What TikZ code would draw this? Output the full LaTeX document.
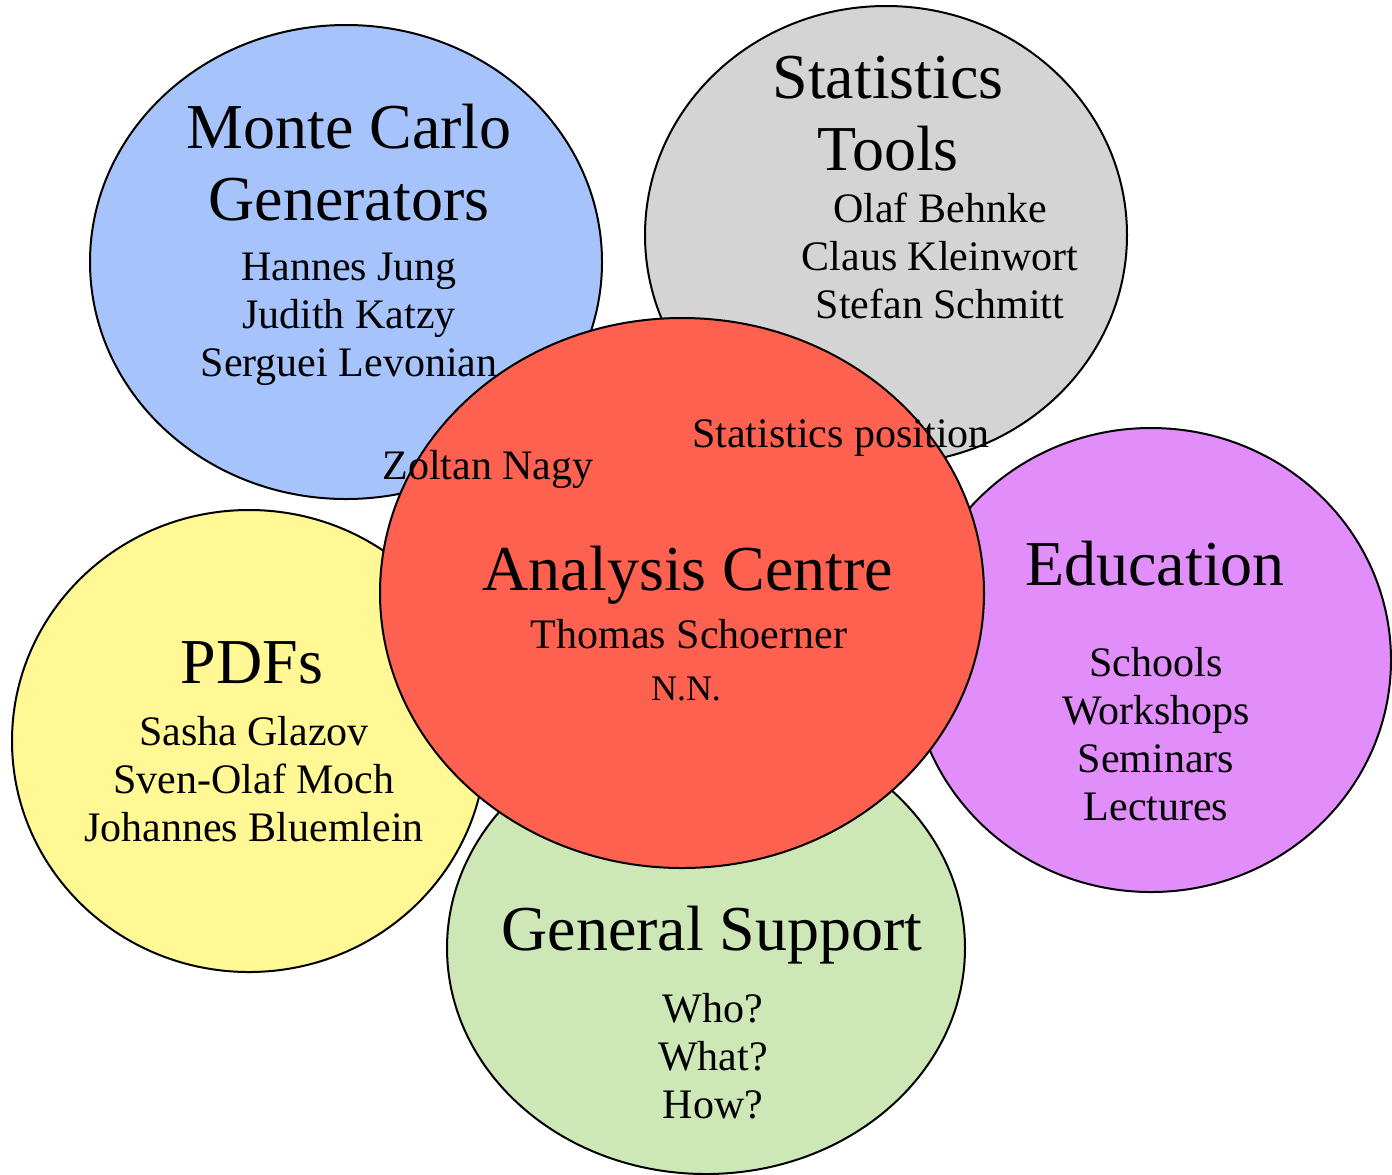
\documentclass[tikz,border=0pt]{standalone}
\usepackage{fontspec}
\setmainfont{Liberation Serif}
\definecolor{mcblue}{RGB}{166,196,251}
\definecolor{statgray}{RGB}{212,212,212}
\definecolor{pdfyellow}{RGB}{255,248,148}
\definecolor{supgreen}{RGB}{205,231,182}
\definecolor{edupurple}{RGB}{225,142,250}
\definecolor{acred}{RGB}{255,97,80}
\begin{document}
\begin{tikzpicture}[x=0.5pt,y=-0.5pt,
    bubble/.style={draw=black,line width=1pt},
    title/.style={font=\fontsize{32}{36}\selectfont,anchor=base,inner sep=0pt},
    member/.style={font=\fontsize{21}{24}\selectfont,anchor=base,inner sep=0pt}]
    \useasboundingbox (0,0) rectangle (1392,1174);

    \filldraw[bubble,fill=mcblue] (346,262) ellipse [x radius=256, y radius=237];
    \filldraw[bubble,fill=statgray] (886,235) ellipse [x radius=241, y radius=229];
    \filldraw[bubble,fill=pdfyellow] (249,741) ellipse [x radius=237, y radius=231];
    \filldraw[bubble,fill=supgreen] (706,948) ellipse [x radius=259, y radius=226];
    \filldraw[bubble,fill=edupurple] (1151,660) ellipse [x radius=240, y radius=232];
    \filldraw[bubble,fill=acred] (682,593) ellipse [x radius=302, y radius=275];

    %monte carlo
\node[title] (mct1) at (349,148) {Monte Carlo};
\node[title] (mct2) at (349,220) {Generators};
\foreach \who [count=\i] in {Hannes Jung, Judith Katzy, Serguei Levonian}
    \node[member] (mcm\i) at (349,232+48*\i) {\who};

    %statistics
\node[title] (stt1) at (888,98) {Statistics};
\node[title] (stt2) at (888,170) {Tools};
\foreach \who [count=\i] in {Olaf Behnke, Claus Kleinwort, Stefan Schmitt}
    \node[member] (stm\i) at (940,174+48*\i) {\who};

    %pdfs
\node[title] (pdft) at (252,683) {PDFs};
\foreach \who [count=\i] in {Sasha Glazov, Sven-Olaf Moch, Johannes Bluemlein}
    \node[member] (pdfm\i) at (254,697+48*\i) {\who};

    %support
\node[title] (supt) at (712,950) {General Support};
\foreach \who [count=\i] in {Who?, What?, How?}
    \node[member] (supm\i) at (713,974+48*\i) {\who};

    %education
\node[title] (edut) at (1155,585) {Education};
\foreach \who [count=\i] in {Schools, Workshops, Seminars, Lectures}
    \node[member] (edum\i) at (1156,628+48*\i) {\who};

    %centre
\node[title] (act) at (688,590) {Analysis Centre};
\node[member] (acm) at (689,648) {Thomas Schoerner};
\node[member,font=\fontsize{18}{22}\selectfont] (acnn) at (686,700) {N.N.};
\node[member] (zn) at (488,479) {Zoltan Nagy};
\node[member] (sp) at (841,447) {Statistics position};
  \end{tikzpicture}
\end{document}
